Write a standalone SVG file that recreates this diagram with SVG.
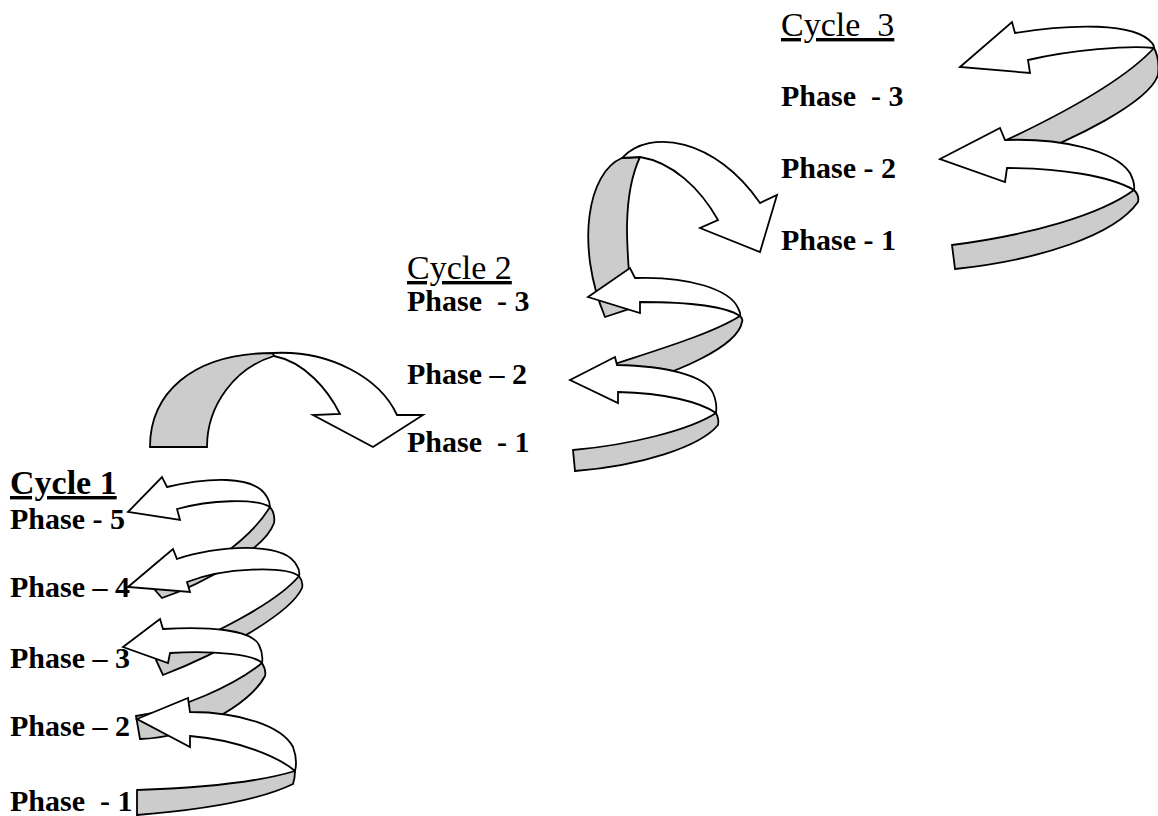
<svg xmlns="http://www.w3.org/2000/svg" width="1158" height="816" viewBox="0 0 1158 816">
<style>
.w{fill:#ffffff;stroke:#000;stroke-width:1.8;stroke-linejoin:miter}
.g{fill:#cccccc;stroke:#000;stroke-width:1.8;stroke-linejoin:miter}
.t{font-family:"Liberation Serif","Times New Roman",serif;font-size:30px;fill:#000;white-space:pre}
.b{font-weight:bold}
.u{text-decoration:underline}
.cy{font-size:34px}
</style>
<rect width="1158" height="816" fill="#fff"/>
<g id="connectors">
<g id="c1-arrow5">
<path class="g" d="M155,590 C200,575 250,540 270,507 C274,512 275,517 274,523 C265,550 200,585 162,598 Z"/>
<path class="w" d="M128,512 L162,477 L167,487 C205,478 255,474 267,497 C269,500 270,503 270,507 C255,498 210,500 177,509 L180,520 Z"/>
</g>
<g id="c1-arrow4">
<path class="g" d="M156,660 C210,635 275,605 299,576 C302,580 303,584 302,588 C290,615 215,655 163,675 Z"/>
<path class="w" d="M128,587 L173,549 L177,559 C215,546 285,540 297,566 C299,569 300,572 299,576 C285,566 225,567 187,582 L190,592 Z"/>
</g>
<g id="c1-arrow3">
<path class="g" d="M136,716 C180,710 235,685 262,663 C265,668 266,672 265,676 C250,705 190,738 140,739 Z"/>
<path class="w" d="M123,647 L160,619 L163,629 C210,626 252,630 259,645 C262,651 263,657 262,663 C255,655 215,650 170,653 L168,663 Z"/>
</g>
<g id="c1-arrow2">
<path class="g" d="M137,790 C200,788 255,783 295,771 C295,776 294,781 293,784 C260,800 200,810 137,815 Z"/>
<path class="w" d="M137,719 L188,698 L190,712 C240,712 282,726 293,747 C296,755 297,763 295,771 C280,758 240,740 190,736 L190,747 Z"/>
</g>
<g id="transition-1">
<path class="g" d="M150,447 C150,395 190,353 273,353 L274,356 C235,368 207,405 207,447 Z"/>
<path class="w" d="M273,353 C330,350 380,378 397,415 L423,415 L373,447 L313,415 L340,414 C328,390 305,362 274,356 Z"/>
</g>
<g id="transition-2">
<path class="g" d="M622,158 C588,172 575,245 605,317 L632,308 C628,260 620,200 640,157 Z"/>
<path class="w" d="M622,158 C650,128 715,138 760,203 L777,195 L760,252 L700,228 L718,220 C700,188 672,162 640,157 Z"/>
</g>
<g id="c2-arrow3">
<path class="g" d="M600,369 C650,352 710,335 740,316 C742,318 743,320 742,322 C738,345 680,375 607,390 Z"/>
<path class="w" d="M588,297 L630,268 L635,278 C690,276 730,290 738,308 C740,312 741,315 740,316 C725,306 685,302 640,302 L640,313 Z"/>
</g>
<g id="c2-arrow2">
<path class="g" d="M573,450 C630,445 690,430 716,413 C718,417 719,421 718,425 C700,447 640,466 575,471 Z"/>
<path class="w" d="M570,380 L615,357 L617,365 C665,366 705,375 713,393 C716,400 717,407 716,413 C700,402 665,393 618,392 L618,403 Z"/>
</g>
<g id="c3-arrow3">
<path class="g" d="M985,150 C1040,125 1120,85 1154,48 C1158,55 1159,65 1158,75 C1150,100 1080,140 990,170 Z"/>
<path class="w" d="M960,67 L1012,22 L1015,33 C1070,24 1135,22 1152,43 C1153,44 1154,46 1154,48 C1130,45 1070,50 1028,60 L1030,73 Z"/>
</g>
<g id="c3-arrow2">
<path class="g" d="M952,245 C1030,235 1100,215 1134,190 C1138,194 1139,198 1138,202 C1115,235 1040,260 955,269 Z"/>
<path class="w" d="M940,159 L1000,128 L1005,140 C1060,138 1115,150 1130,173 C1133,179 1135,185 1134,190 C1110,176 1060,168 1007,168 L1005,182 Z"/>
</g>
</g>
<g id="cycle1">
<text class="t b u cy" x="10" y="494">Cycle 1</text>
<text class="t b" x="10" y="529">Phase - 5</text>
<text class="t b" x="10" y="597">Phase – 4</text>
<text class="t b" x="10" y="668">Phase – 3</text>
<text class="t b" x="10" y="736">Phase – 2</text>
<text class="t b" x="10" y="811">Phase  - 1</text>
</g>
<g id="cycle2">
<text class="t u cy" x="407" y="279">Cycle 2</text>
<text class="t b" x="407" y="311">Phase  - 3</text>
<text class="t b" x="407" y="384">Phase – 2</text>
<text class="t b" x="407" y="452">Phase  - 1</text>
</g>
<g id="cycle3">
<text class="t u cy" x="781" y="36">Cycle  3</text>
<text class="t b" x="781" y="106">Phase  - 3</text>
<text class="t b" x="781" y="178">Phase - 2</text>
<text class="t b" x="781" y="250">Phase - 1</text>
</g>
</svg>
